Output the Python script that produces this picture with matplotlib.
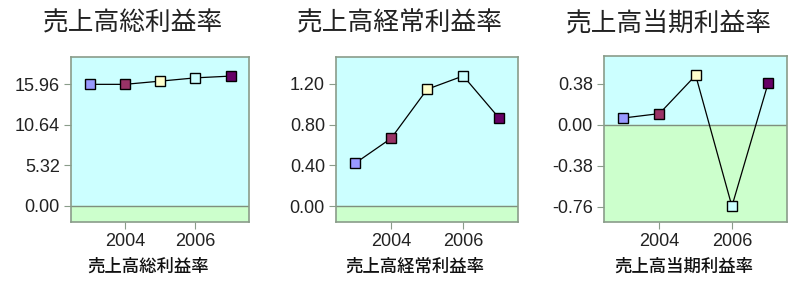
import matplotlib.pyplot as plt

plt.rcParams['font.family'] = ['Liberation Sans', 'DejaVu Sans']

years = [2003, 2004, 2005, 2006, 2007]
marker_colors = ['#9999FF', '#993366', '#FFFFCC', '#CCFFFF', '#660066']

titles = ['売上高総利益率', '売上高経常利益率', '売上高当期利益率']
gross = [15.92, 15.92, 16.34, 16.77, 17.0]
ordinary = [0.42, 0.665, 1.147, 1.278, 0.862]
net = [0.061, 0.102, 0.457, -0.757, 0.385]
series = [gross, ordinary, net]

yticks = [[0.0, 5.32, 10.64, 15.96],
          [0.0, 0.40, 0.80, 1.20],
          [-0.76, -0.38, 0.0, 0.38]]
ylims = [(-2.1, 19.5), (-0.157, 1.464), (-0.903, 0.636)]

# axes positions in pixels: left, top, right, bottom
boxes = [(71, 57, 249, 222), (336, 57, 518, 222), (604, 56, 787, 222)]

W, H = 801, 281
fig = plt.figure(figsize=(W / 100, H / 100), dpi=100)

frame = '#8A9C8A'
for i in range(3):
    l, t, r, b = boxes[i]
    ax = fig.add_axes([l / W, 1 - b / H, (r - l) / W, (b - t) / H])
    lo, hi = ylims[i]
    ax.set_ylim(lo, hi)
    ax.set_xlim(2002.47, 2007.52)
    ax.axhspan(0, hi, color='#CCFFFF', zorder=0)
    ax.axhspan(lo, 0, color='#CCFFCC', zorder=0)
    ax.axhline(0, color='#7F8F7F', lw=1, zorder=1)
    ax.plot(years, series[i], color='black', lw=0.9, zorder=2)
    for x, y, c in zip(years, series[i], marker_colors):
        ax.plot(x, y, marker='s', ms=7.5, mfc=c, mec='black', mew=1.0, zorder=3)
    ax.set_yticks(yticks[i])
    ax.set_yticklabels(['%.2f' % v for v in yticks[i]])
    ax.set_xticks([2004, 2006])
    ax.set_xticklabels(['2004', '2006'])
    ax.tick_params(labelsize=13, length=5, color=frame, pad=3, labelcolor='#222222')
    for s in ax.spines.values():
        s.set_color(frame)
        s.set_linewidth(1.2)
    cx = (l + r) / 2
    fig.text((cx - 27) / W, 1 - 23 / H, titles[i], ha='center', va='center',
             fontsize=18.5, family=['Noto Sans CJK JP', 'DejaVu Sans'], color='#222222')
    fig.text((cx - 12) / W, 1 - 267 / H, titles[i], ha='center', va='center',
             fontsize=12.5, fontweight='medium', family=['Noto Sans CJK JP', 'DejaVu Sans'],
             color='#111111')

fig.savefig('out.png', dpi=100)
